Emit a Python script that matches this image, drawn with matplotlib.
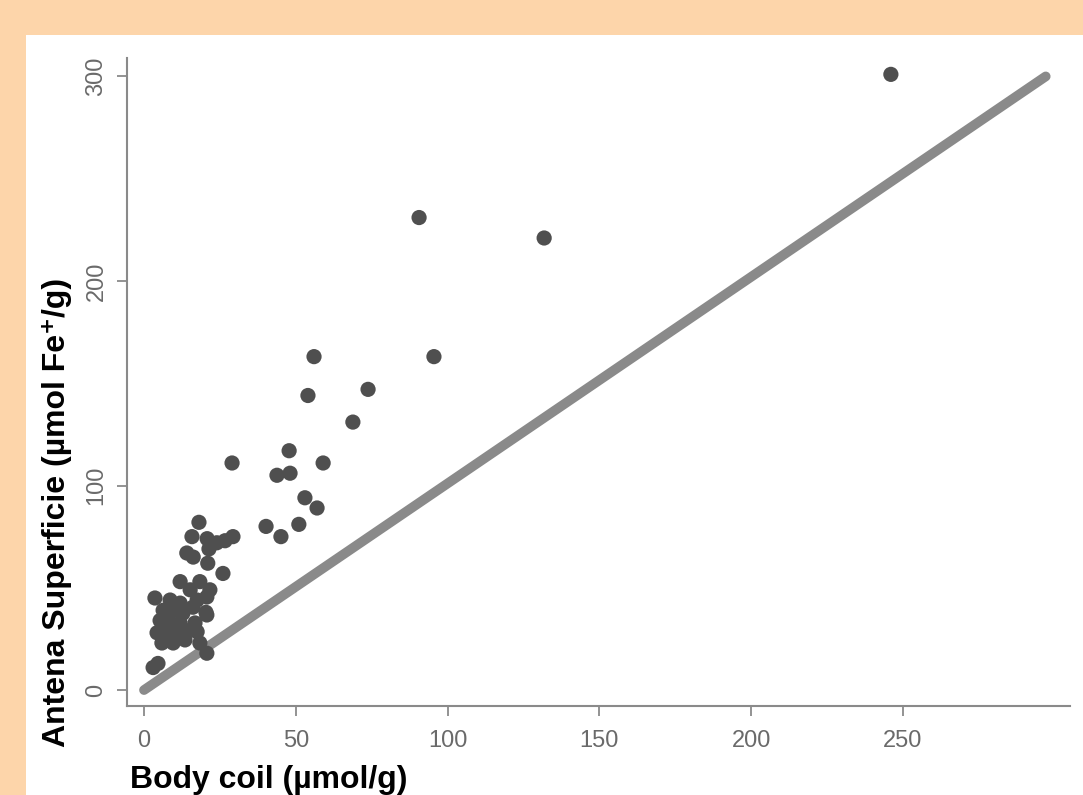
import matplotlib
matplotlib.use("Agg")
import matplotlib.pyplot as plt
from matplotlib.patches import Rectangle

# Data
body_coil = [246, 90.6, 131.8, 95.5, 56, 54, 73.8, 68.8, 47.8, 29, 59, 43.8, 48.1,
             53, 57, 40.2, 45.1, 51, 29.3, 26.7,
             18.1, 15.8, 20.8, 24, 21.4, 14.1, 16.2, 21, 26, 11.9, 18.4, 21.7,
             3.6, 15.2, 8.6, 11.9, 17.5, 20.7, 6.3, 9.6, 12.8, 16.1, 20.7,
             5.3, 8.6, 11.9, 16.8, 4.3, 7.6, 10.9, 14.2, 17.5, 5.9, 9.6, 13.5,
             18.4, 20.7, 4.6, 3.0, 20.4]
antena = [301, 231, 221, 163, 163, 144, 147, 131, 117, 111, 111, 105, 106,
          94, 89, 80, 75, 81, 75, 73,
          82, 75, 74, 72, 69, 67, 65, 62, 57, 53, 53, 49,
          45, 49, 44, 42.5, 44, 45.5, 39, 39, 37.5, 40.5, 36.7,
          34, 33, 32.8, 32.8, 28, 28, 28.5, 29, 28.5, 23, 23, 24.5,
          23, 18, 13, 11, 38]
line_x = [0, 297]
line_y = [0, 300]
xticks = [0, 50, 100, 150, 200, 250]
yticks = [0, 100, 200, 300]

W, H = 1083, 795
fig = plt.figure(figsize=(W / 100, H / 100), dpi=100)
fig.patch.set_facecolor("#FDD5AA")
fig.patches.append(Rectangle((26 / W, 0), 1 - 26 / W, (H - 35) / H,
                             transform=fig.transFigure, facecolor="white",
                             edgecolor="none", zorder=-5))

ax = fig.add_axes([127 / W, 89 / H, 943 / W, 648 / H])
ax.set_zorder(2)
ax.set_facecolor("none")
ax.set_xlim(-5.6, 305)
ax.set_ylim(-7.8, 309)

ax.plot(line_x, line_y, color="#8a8a8a", lw=7, solid_capstyle="round", zorder=2)
ax.scatter(body_coil, antena, s=120, color="#4f4f4f", edgecolors="none", zorder=3)

for s in ["top", "right"]:
    ax.spines[s].set_visible(False)
for s in ["left", "bottom"]:
    ax.spines[s].set_color("#8a8a8a")
    ax.spines[s].set_linewidth(1.5)

ax.set_xticks(xticks)
ax.set_yticks(yticks)
ax.tick_params(axis="both", colors="#8a8a8a", length=7, width=1.3,
               labelsize=17, labelcolor="#6a6a6a", pad=7)
ax.tick_params(axis="x", pad=10)
for lab in ax.get_xticklabels() + ax.get_yticklabels():
    lab.set_fontfamily("Liberation Sans")
for lab in ax.get_yticklabels():
    lab.set_rotation(90)
    lab.set_va("center")

fig.text(130 / W, 1 - 780 / H, "Body coil (µmol/g)", fontsize=23, fontweight="bold",
         family="Liberation Sans", ha="left", va="center", zorder=3)
fig.text(57 / W, 1 - 512 / H, "Antena Superficie (µmol Fe\u207a/g)", fontsize=23,
         fontweight="bold", family=["Liberation Sans", "DejaVu Sans"], rotation=90,
         ha="center", va="center", zorder=3)

fig.savefig("out.png", dpi=100, facecolor=fig.get_facecolor())
